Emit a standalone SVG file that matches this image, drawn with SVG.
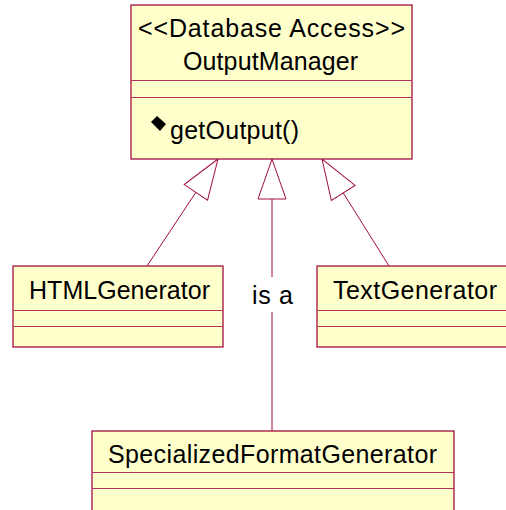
<svg xmlns="http://www.w3.org/2000/svg" width="506" height="510" viewBox="0 0 506 510">
<style>
.box{fill:#FFFFCC;stroke:#A0103C;stroke-width:1.3}
.div{stroke:#B8305A;stroke-width:1}
.t{font-family:"Liberation Sans",Arial,Helvetica,sans-serif;font-size:25px;fill:#000}
.c{fill:none;stroke:#A0103C;stroke-width:1}
</style>
<defs>
<marker id="gen" markerUnits="userSpaceOnUse" viewBox="-42 -16 44 32" markerWidth="44" markerHeight="32" refX="0" refY="0" orient="auto" overflow="visible">
<path d="M0,0 L-40,-14 L-40,14 Z" fill="#FFFFFF" stroke="#A0103C" stroke-width="1"/>
</marker>
</defs>
<rect width="506" height="510" fill="#FFFFFF"/>
<g id="connectors">
<path class="c" d="M147,266 L218,159" marker-end="url(#gen)"/>
<path class="c" d="M389,266 L322,159" marker-end="url(#gen)"/>
<path class="c" d="M272,431 V312 M272,277 V159" marker-end="url(#gen)"/>
<text class="t" x="272.5" y="304" text-anchor="middle" textLength="41" lengthAdjust="spacing">is a</text>
</g>
<g id="OutputManager">
<rect class="box" x="131" y="5" width="281" height="154"/>
<line class="div" x1="131" y1="80.5" x2="412" y2="80.5"/>
<line class="div" x1="131" y1="97.5" x2="412" y2="97.5"/>
<text class="t" x="271.5" y="37" text-anchor="middle" textLength="267" lengthAdjust="spacing">&lt;&lt;Database Access&gt;&gt;</text>
<text class="t" x="270.5" y="70" text-anchor="middle" textLength="175" lengthAdjust="spacing">OutputManager</text>
<polygon points="157,116 166,124 160,131 151,122" fill="#000"/>
<text class="t" x="170" y="139" textLength="129" lengthAdjust="spacing">getOutput()</text>
</g>
<g id="HTMLGenerator">
<rect class="box" x="13" y="266" width="210" height="81"/>
<line class="div" x1="13" y1="310.5" x2="223" y2="310.5"/>
<line class="div" x1="13" y1="326.5" x2="223" y2="326.5"/>
<text class="t" x="29" y="299" textLength="181" lengthAdjust="spacing">HTMLGenerator</text>
</g>
<g id="TextGenerator">
<rect class="box" x="317" y="266" width="200" height="81"/>
<line class="div" x1="317" y1="310.5" x2="517" y2="310.5"/>
<line class="div" x1="317" y1="326.5" x2="517" y2="326.5"/>
<text class="t" x="333" y="299" textLength="164" lengthAdjust="spacing">TextGenerator</text>
</g>
<g id="SpecializedFormatGenerator">
<rect class="box" x="92" y="431" width="362" height="90"/>
<line class="div" x1="92" y1="472.5" x2="454" y2="472.5"/>
<line class="div" x1="92" y1="488.5" x2="454" y2="488.5"/>
<text class="t" x="108" y="463" textLength="329" lengthAdjust="spacing">SpecializedFormatGenerator</text>
</g>
</svg>
